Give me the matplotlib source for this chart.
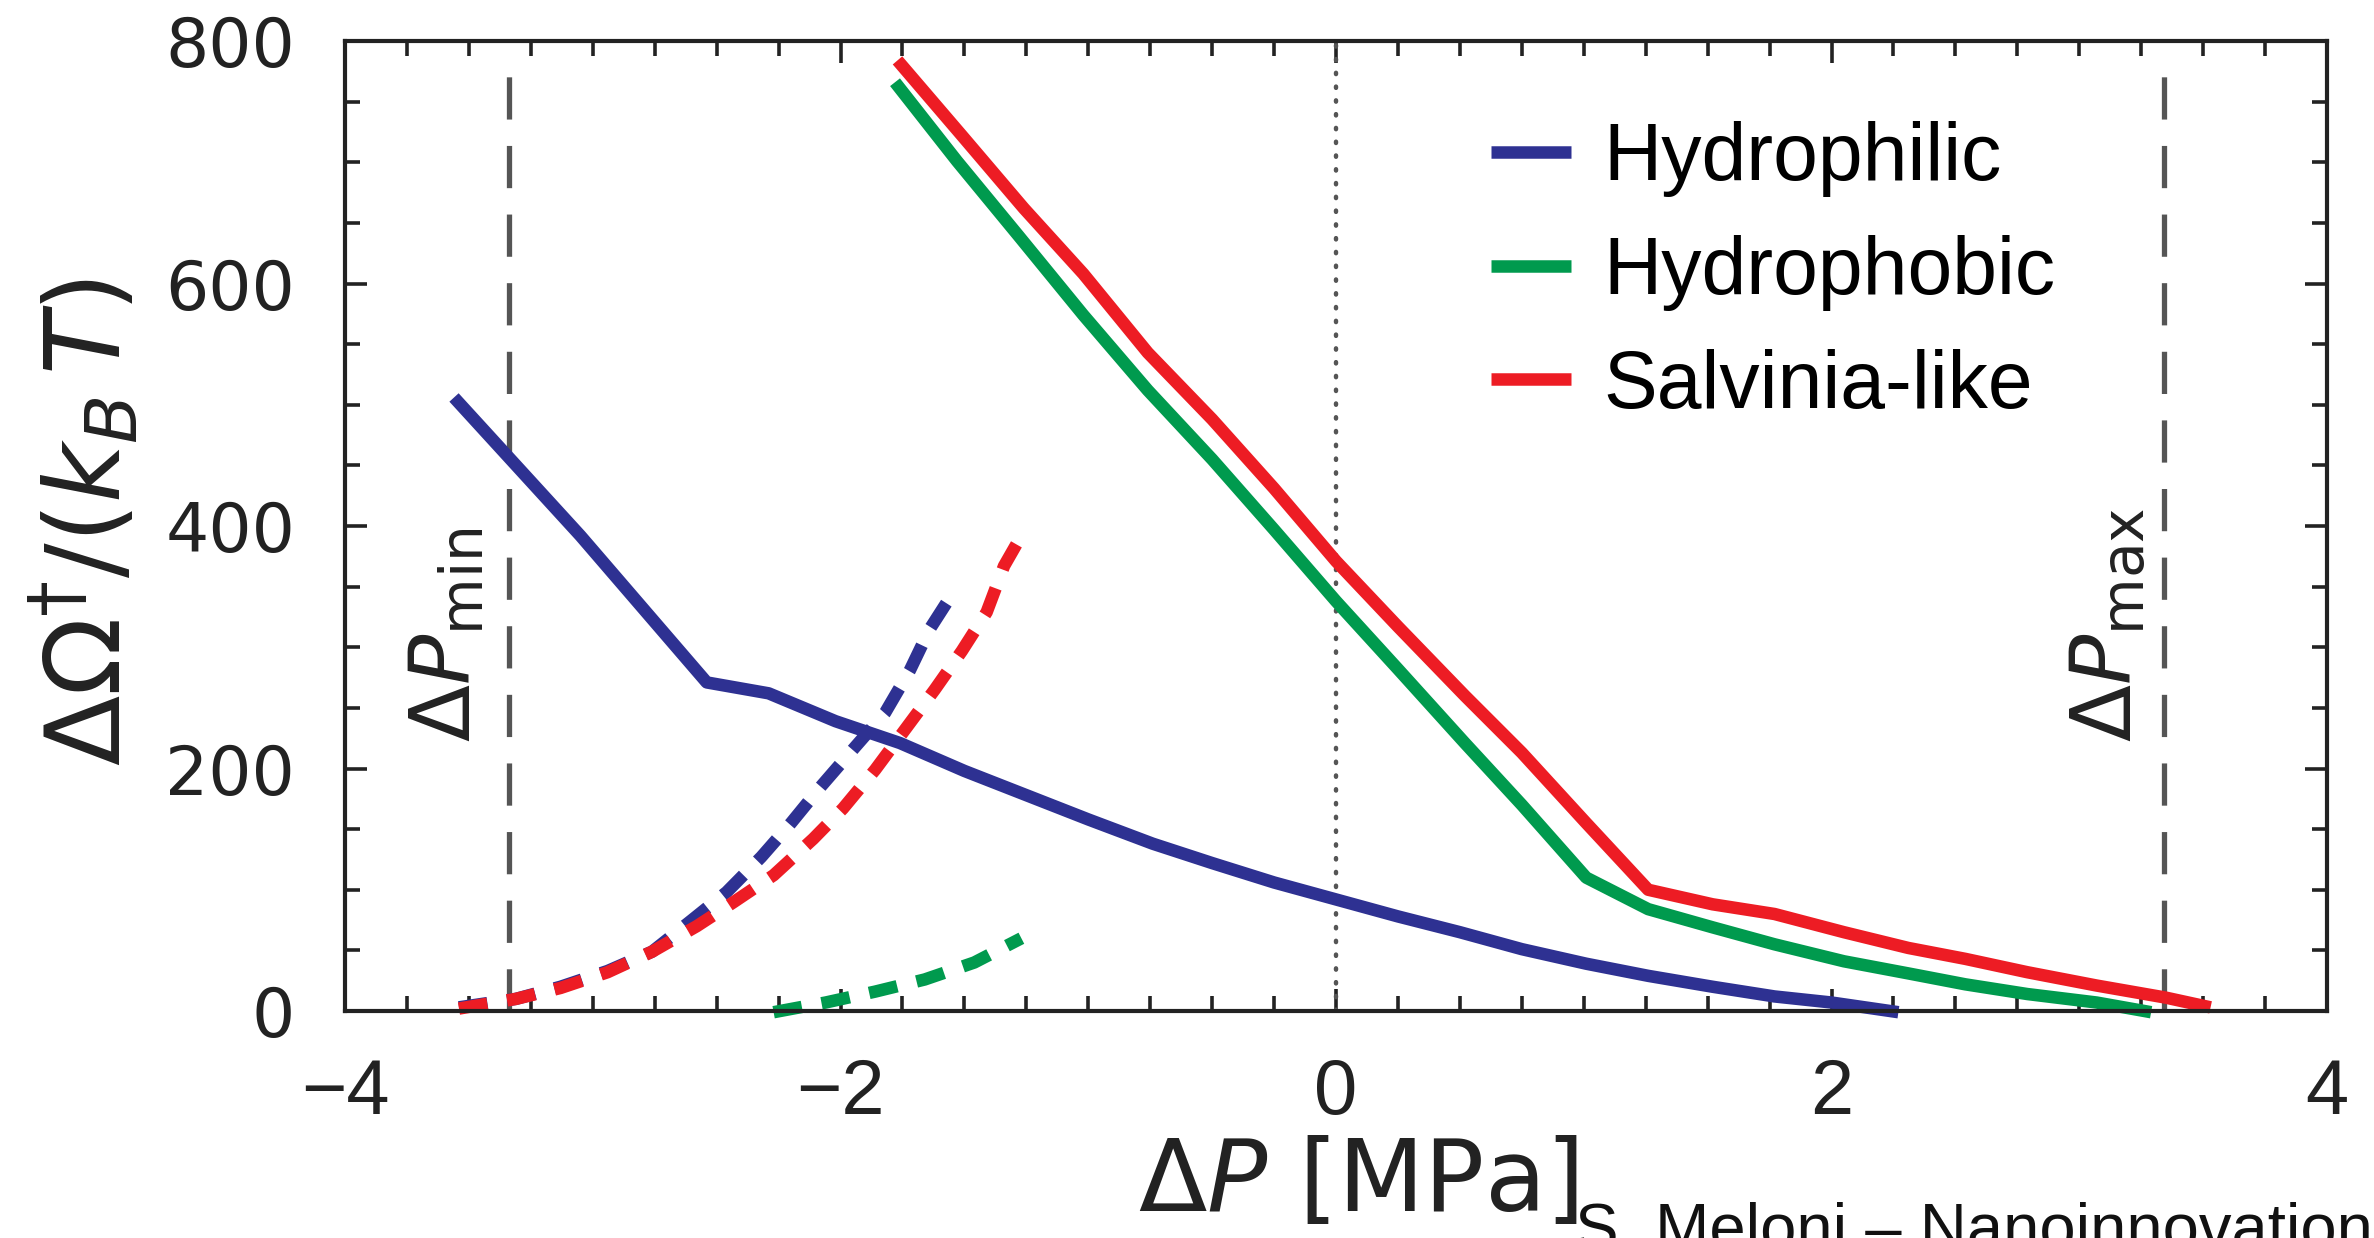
import matplotlib
matplotlib.use('Agg')
import matplotlib.pyplot as plt
from matplotlib.ticker import MultipleLocator

# values: Delta P [MPa] and Delta Omega / kT
x_philic = [-3.56, -3.05, -2.54, -2.29, -2.02, -1.76, -1.50, -1.25, -1.00, -0.74, -0.50,
            -0.25, 0.00, 0.25, 0.50, 0.75, 1.01, 1.26, 1.52, 1.77, 2.00, 2.27]
y_philic = [506, 392, 271, 262, 239, 221, 198, 178, 158, 138, 122,
            106, 92, 78, 65, 51, 39, 29, 20, 12, 7, -1]

x_phobic = [-1.78, -1.53, -1.28, -1.02, -0.76, -0.50, -0.25, 0.00, 0.25, 0.52, 0.75,
            1.01, 1.26, 1.52, 1.77, 2.05, 2.31, 2.54, 2.79, 3.07, 3.29]
y_phobic = [766, 701, 639, 574, 512, 455, 397, 338, 282, 221, 170,
            110, 84, 69, 55, 41, 31, 22, 14, 7, -1]

x_salv = [-1.77, -1.51, -1.26, -1.02, -0.76, -0.50, -0.25, 0.00, 0.25, 0.52, 0.75,
          1.01, 1.26, 1.52, 1.77, 2.05, 2.31, 2.54, 2.79, 3.07, 3.35, 3.53]
y_salv = [784, 722, 662, 608, 543, 488, 431, 371, 317, 260, 213,
          155, 100, 88, 80, 65, 52, 43, 32, 21, 11, 3]

# dashed branches
xd_philic = [-3.54, -3.31, -3.13, -2.94, -2.76, -2.60, -2.46, -2.32, -2.20, -2.08, -1.94,
             -1.82, -1.72, -1.64, -1.53]
yd_philic = [3, 10, 20, 33, 49, 75, 98, 127, 155, 185, 218, 246, 281, 315, 350]

xd_salv = [-3.54, -3.31, -3.13, -2.94, -2.76, -2.58, -2.43, -2.27, -2.11, -1.99, -1.86,
           -1.74, -1.62, -1.51, -1.41, -1.34, -1.27]
yd_salv = [2, 10, 19, 32, 49, 70, 90, 112, 142, 167, 199, 232, 265, 297, 329, 367, 392]

xd_phobic = [-2.27, -2.06, -1.86, -1.66, -1.46, -1.27]
yd_phobic = [-1, 7, 16, 26, 40, 60]

dp_min, dp_max = -3.34, 3.34

xticks = [-4, -2, 0, 2, 4]
xticklabels = ['\u22124', '\u22122', '0', '2', '4']
yticks = [0, 200, 400, 600, 800]

blue = '#2E3192'
green = '#009A4E'
red = '#ED1C24'
grey = '#555555'
ink = '#222222'
arial = ['Liberation Sans', 'DejaVu Sans']

plt.rcParams['font.family'] = ['DejaVu Sans']
plt.rcParams['mathtext.fontset'] = 'dejavusans'

fig = plt.figure(figsize=(23.74, 12.38), dpi=100)
ax = fig.add_axes([0.14533, 0.18336, 0.83488, 0.78352])

lw = 9
dash = (2.3, 1.6)
ax.axvline(dp_min, ymax=0.985, color=grey, lw=3.8, dashes=(8, 5))
ax.axvline(dp_max, ymax=0.985, color=grey, lw=3.8, dashes=(8, 5))
ax.axvline(0, color=grey, lw=3.2, dashes=(0.3, 2.8), dash_capstyle='round')

ax.plot(xd_phobic, yd_phobic, color=green, lw=lw, dashes=dash, clip_on=False)
ax.plot(xd_philic, yd_philic, color=blue, lw=lw, dashes=dash, clip_on=False)
ax.plot(xd_salv, yd_salv, color=red, lw=lw, dashes=dash, clip_on=False)

ax.plot(x_philic, y_philic, color=blue, lw=lw, solid_capstyle='butt', clip_on=False, label='Hydrophilic')
ax.plot(x_phobic, y_phobic, color=green, lw=lw, solid_capstyle='butt', clip_on=False, label='Hydrophobic')
ax.plot(x_salv, y_salv, color=red, lw=lw, solid_capstyle='butt', clip_on=False, label='Salvinia-like')

ax.set_xlim(-4, 4)
ax.set_ylim(0, 800)
ax.set_xticks(xticks, labels=xticklabels)
ax.set_yticks(yticks)
ax.xaxis.set_minor_locator(MultipleLocator(0.25))
ax.yaxis.set_minor_locator(MultipleLocator(50))
ax.tick_params(which='both', direction='in', top=True, right=True, width=2.6, color=ink)
ax.tick_params(which='major', length=16)
ax.tick_params(which='minor', length=11)
ax.tick_params(axis='y', labelsize=49, pad=36, labelcolor=ink)
ax.tick_params(axis='x', labelsize=56, pad=33, labelcolor=ink)
for lab in ax.get_xticklabels():
    lab.set_family(arial)
for sp in ax.spines.values():
    sp.set_linewidth(3)
    sp.set_color(ink)

ax.text(-3.59, 222, r'$\Delta P_{\mathrm{min}}$', rotation=90, ha='center', va='bottom',
        fontsize=60, color=ink)
ax.text(3.12, 222, r'$\Delta P_{\mathrm{max}}$', rotation=90, ha='center', va='bottom',
        fontsize=60, color=ink)

ax.legend(loc='center left', bbox_to_anchor=(0.578, 0.761), frameon=False, borderpad=0,
          borderaxespad=0, handlelength=1.0, handletextpad=0.4, labelspacing=0.47,
          prop={'family': arial, 'size': 58})

fig.text(86 / 2374, 1 - 522 / 1238, r'$\Delta\Omega^{\dagger}/(k_B\,T)$', rotation=90,
         ha='center', va='center', fontsize=74, color=ink)
fig.text(0.572, 0.044, r'$\Delta P$ [MPa]', ha='center', va='center', fontsize=72, color=ink)
fig.text(0.6633, -0.0085, 'S. Meloni \u2013 Nanoinnovation 2', ha='left', va='baseline',
         fontsize=47, family=arial, color='#111111')

fig.savefig('out.png', dpi=100)
